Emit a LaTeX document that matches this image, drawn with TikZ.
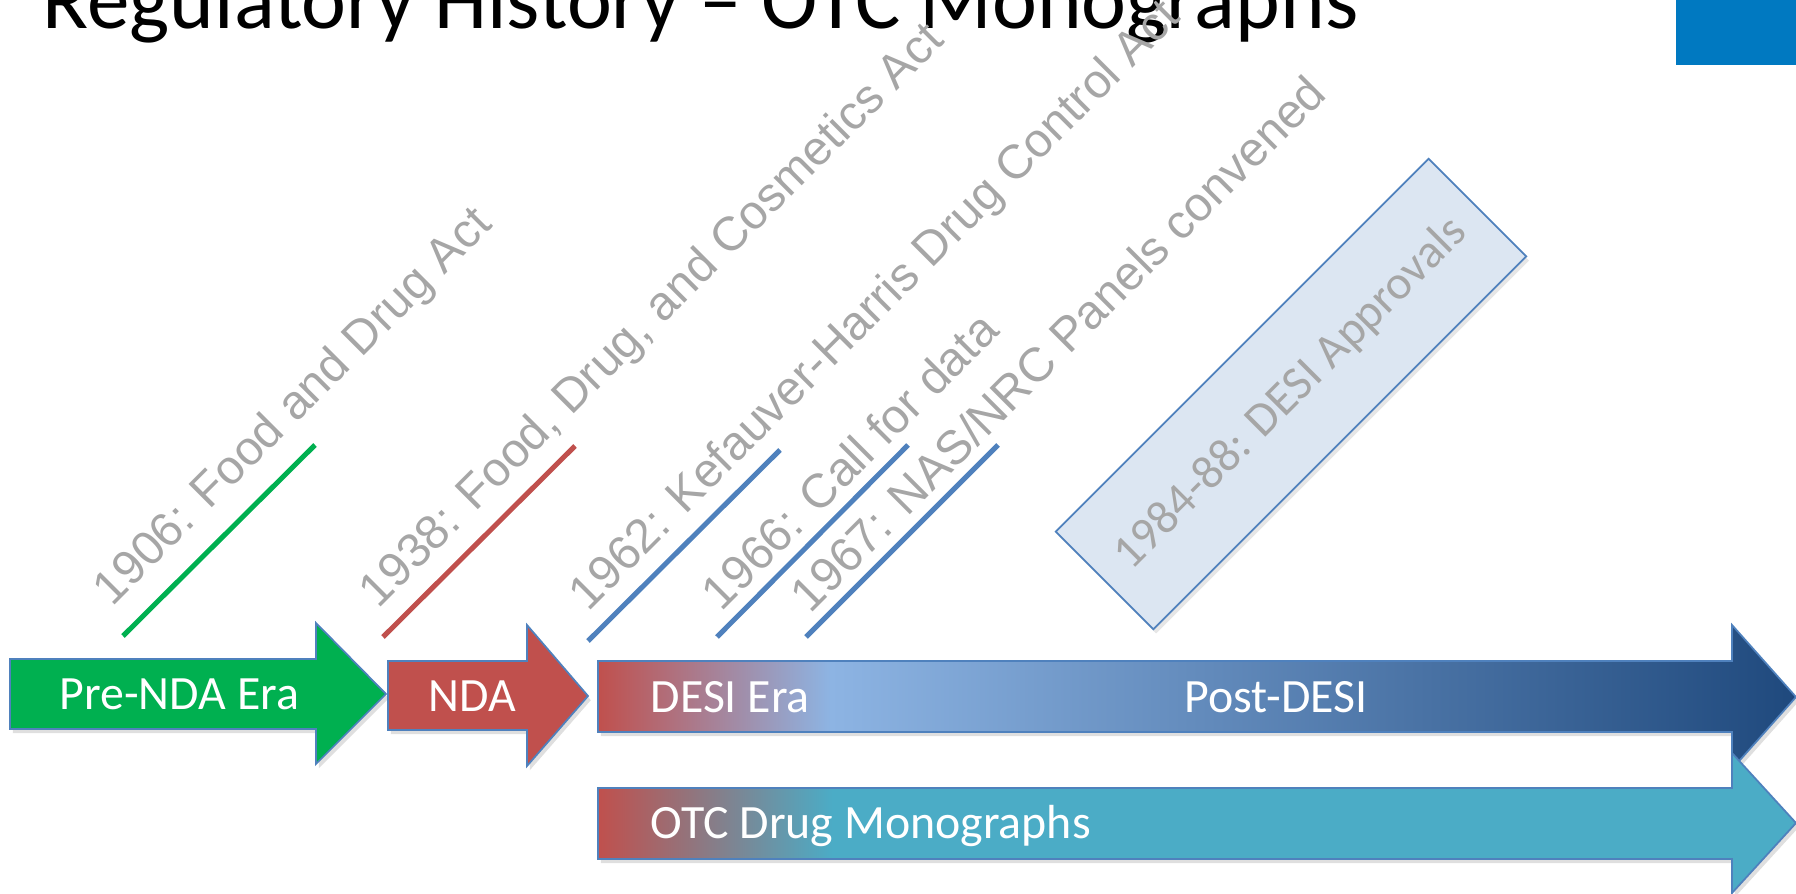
\documentclass[tikz,border=0pt]{standalone}
\usepackage{fontspec}
\setmainfont{Carlito}
\newfontfamily\eventfont{Liberation Sans}
\usetikzlibrary{positioning,shadows}

\definecolor{preGreen}{RGB}{0,176,80}
\definecolor{ndaRed}{RGB}{192,80,77}
\definecolor{desiLight}{RGB}{141,180,227}
\definecolor{desiDark}{RGB}{31,73,125}
\definecolor{otcTeal}{RGB}{75,172,198}
\definecolor{edgeBlue}{RGB}{79,129,189}
\definecolor{eventGray}{RGB}{166,166,166}
\definecolor{approvalFill}{RGB}{220,230,242}
\definecolor{cornerBlue}{RGB}{0,121,193}

\pgfdeclarehorizontalshading{desishading}{100bp}{color(0bp)=(ndaRed); color(25bp)=(ndaRed); color(34.7bp)=(desiLight); color(75bp)=(desiDark); color(100bp)=(desiDark)}
\pgfdeclarehorizontalshading{otcshading}{100bp}{color(0bp)=(ndaRed); color(25bp)=(ndaRed); color(34.8bp)=(otcTeal); color(100bp)=(otcTeal)}

\tikzset{
  era/.style = {draw=edgeBlue, line width=0.5pt,
    drop shadow={shadow xshift=0.8pt, shadow yshift=-1.2pt, opacity=0.25}},
  eratext/.style = {text=white, inner sep=0pt, anchor=base west,
    font=\fontsize{13.6}{16}\selectfont},
  eventline/.style = {line width=0.05cm},
  eventtext/.style = {text=eventGray, inner sep=0pt, anchor=base west, rotate=45,
    font=\eventfont\fontsize{13.6}{16}\selectfont}
}

\begin{document}
\begin{tikzpicture}[x=0.01cm, y=-0.01cm]
  \useasboundingbox (0,0) rectangle (1796,894);

  % title and corner mark
  \node[anchor=base west, inner sep=0pt, font=\fontsize{24.2}{28}\selectfont] (title) at (42,29)
    {Regulatory History \textendash{} OTC Monographs};
  \fill[cornerBlue] (1676,0) rectangle (1796,65);

  % eras
  \path[era, fill=preGreen] (10,659) -- (316,659) -- (316,623) -- (386,694)
    -- (316,764) -- (316,729) -- (10,729) -- cycle;
  \node[eratext] (prenda) at (59,709) {Pre-NDA Era};

  \path[era, fill=ndaRed] (388,661) -- (527,661) -- (527,625) -- (588,696)
    -- (527,766) -- (527,730) -- (388,730) -- cycle;
  \node[eratext] (nda) at (428,711) {NDA};

  \path[era, shade, shading=desishading] (598,661) -- (1732,661) -- (1732,625) -- (1796,697)
    -- (1732,769) -- (1732,732) -- (598,732) -- cycle;
  \node[eratext] (desi) at (650,712) {DESI Era};
  \node[eratext] (postdesi) at (1184,712) {Post-DESI};

  \path[era, shade, shading=otcshading] (598,788) -- (1732,788) -- (1732,753) -- (1796,823)
    -- (1732,893) -- (1732,859) -- (598,859) -- cycle;
  \node[eratext] (otc) at (650,838) {OTC Drug Monographs};

  % events
  \draw[eventline, preGreen] (123,636) -- (315,445);
  \node[eventtext] (ev1906) at (112,608) {1906: Food and Drug Act};

  \draw[eventline, ndaRed] (383,637) -- (575,446);
  \node[eventtext] (ev1938) at (378,610) {1938: Food, Drug, and Cosmetics Act};

  \draw[eventline, edgeBlue] (588,641) -- (780,450);
  \node[eventtext] (ev1962) at (588,613) {1962: Kefauver-Harris Drug Control Act};

  \draw[eventline, edgeBlue] (717,637) -- (908,445);
  \node[eventtext] (ev1966) at (721,613) {1966: Call for data};

  \draw[eventline, edgeBlue] (806,637) -- (998,445);
  \node[eventtext] (ev1967) at (810,615) {1967: NAS/NRC Panels convened};

  \node[rotate=45, draw=edgeBlue, line width=0.5pt, fill=approvalFill,
    minimum width=5.27cm, minimum height=1.38cm, inner sep=0pt,
    text=eventGray, font=\fontsize{13.6}{16}\selectfont,
    drop shadow={shadow xshift=0.8pt, shadow yshift=-1.2pt, opacity=0.2}]
    (approvals) at (1291,394) {1984-88: DESI Approvals};
\end{tikzpicture}
\end{document}
